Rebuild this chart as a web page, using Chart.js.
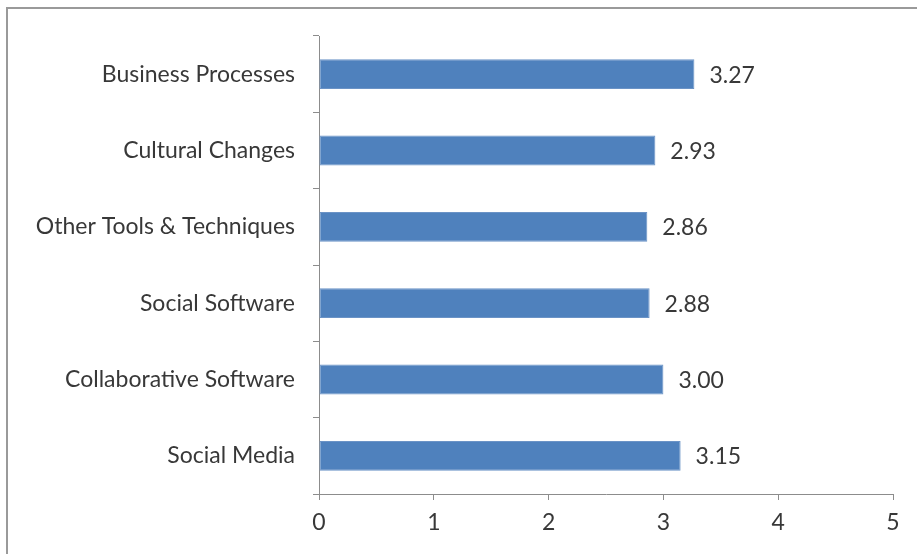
<!DOCTYPE html>
<html>
<head>
<meta charset="utf-8">
<script src="https://cdn.jsdelivr.net/npm/chart.js@4.4.1/dist/chart.umd.min.js"></script>
<style>
  html, body { margin: 0; padding: 0; background: #fff; }
  #wrap { width: 917px; height: 554px; position: relative; }
</style>
</head>
<body>
<div id="wrap"><canvas id="myChart" width="917" height="554"></canvas></div>
<script>
    // categories, top to bottom
    const categories = [
        'Business Processes',
        'Cultural Changes',
        'Other Tools & Techniques',
        'Social Software',
        'Collaborative Software',
        'Social Media'
    ];
    const scores = [3.27, 2.93, 2.86, 2.88, 3.00, 3.15];
    const xTicks = [0, 1, 2, 3, 4, 5];

    const axisGray = '#8c8c8c';
    const textGray = '#383838';
    const fontFamily = 'Lato, "Open Sans", sans-serif';
    const fontSize = 23;

    // outer frame (top and left edges show)
    const framePlugin = {
        id: 'frame',
        beforeDraw(chart) {
            const c = chart.ctx;
            c.save();
            c.fillStyle = '#ffffff';
            c.fillRect(0, 0, chart.width, chart.height);
            c.strokeStyle = '#9a9a9a';
            c.lineWidth = 2;
            c.beginPath();
            c.moveTo(7, chart.height + 5);
            c.lineTo(7, 8);
            c.lineTo(chart.width + 5, 8);
            c.stroke();
            c.restore();
        }
    };

    // value text at the end of each bar
    const valueLabels = {
        id: 'valueLabels',
        afterDatasetsDraw(chart) {
            const c = chart.ctx;
            const meta = chart.getDatasetMeta(0);
            c.save();
            c.fillStyle = textGray;
            c.font = fontSize + 'px ' + fontFamily;
            c.textAlign = 'left';
            c.textBaseline = 'middle';
            meta.data.forEach((bar, i) => {
                c.fillText(scores[i].toFixed(2), bar.x + 15, bar.y + 1);
            });
            c.restore();
        }
    };

    const ctx = document.getElementById('myChart').getContext('2d');

    const myChart = new Chart(ctx, {
        type: 'bar',
        data: {
            labels: categories,
            datasets: [{
                data: scores,
                backgroundColor: '#4f81bd',
                borderColor: '#6b93c6',
                borderWidth: 1,
                borderSkipped: false,
                categoryPercentage: 1,
                barPercentage: 0.39
            }]
        },
        options: {
            indexAxis: 'y',
            responsive: false,
            animation: false,
            layout: { padding: { top: 36, right: 24, left: 0, bottom: 0 } },
            plugins: {
                legend: { display: false },
                tooltip: { enabled: false }
            },
            scales: {
                x: {
                    min: 0,
                    max: 5,
                    afterBuildTicks(scale) {
                        scale.ticks = xTicks.map(v => ({ value: v }));
                    },
                    afterFit(scale) { scale.height = 60; },
                    grid: {
                        drawOnChartArea: false,
                        drawTicks: true,
                        tickLength: 6,
                        color: axisGray
                    },
                    border: { display: true, color: axisGray, width: 1 },
                    ticks: {
                        padding: 9,
                        color: textGray,
                        font: { family: fontFamily, size: fontSize }
                    }
                },
                y: {
                    afterFit(scale) { scale.width = 319; },
                    grid: {
                        offset: true,
                        drawOnChartArea: false,
                        drawTicks: true,
                        tickLength: 6,
                        color: axisGray
                    },
                    border: { display: true, color: axisGray, width: 1 },
                    ticks: {
                        padding: 18,
                        color: textGray,
                        font: { family: fontFamily, size: fontSize }
                    }
                }
            }
        },
        plugins: [framePlugin, valueLabels]
    });
</script>
</body>
</html>
